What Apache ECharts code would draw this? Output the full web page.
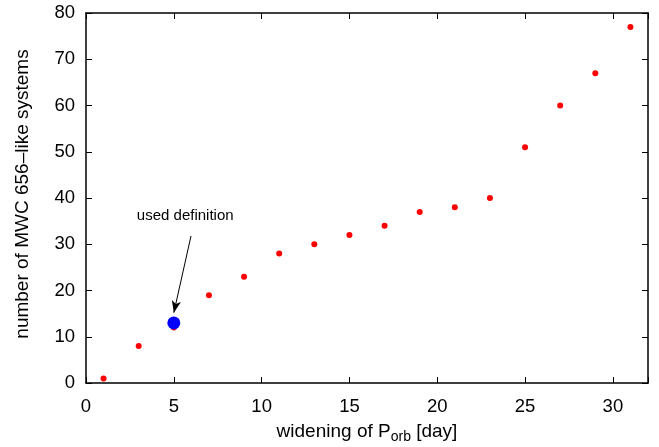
<!DOCTYPE html>
<html>
<head>
<meta charset="utf-8">
<script src="https://cdn.jsdelivr.net/npm/echarts@6/dist/echarts.min.js"></script>
<style>
html,body{margin:0;padding:0;background:#fff;}
#c{width:659px;height:447px;}
</style>
</head>
<body>
<div id="c"></div>
<script>
var widening = [1, 3, 5, 7, 9, 11, 13, 15, 17, 19, 21, 23, 25, 27, 29, 31];
var counts   = [1, 8, 12, 19, 23, 28, 30, 32, 34, 37, 38, 40, 51, 60, 67, 77];
var usedDef = [[5, 13]];
var annotationText = 'used definition';
var annotationPos = [5.65, 36.2];
var arrowFrom = [5.98, 31.8];
var arrowTo = [5, 15.2];

var font = 'Liberation Sans, Arial, Helvetica, sans-serif';
var chart = echarts.init(document.getElementById('c'));
var axisCommon = {
  axisLine: {show: true, onZero: false, lineStyle: {color: '#000', width: 1.5}},
  axisTick: {show: true, inside: true, length: 6, lineStyle: {color: '#000', width: 1}},
  splitLine: {show: false}
};
var xFmt = function (v) { return (v % 5 === 0) ? String(v) : ''; };
chart.setOption({
  animation: false,
  backgroundColor: '#fff',
  grid: {left: 86, right: 11, top: 13, bottom: 64, containLabel: false, outerBoundsMode: 'none'},
  xAxis: [
    Object.assign({}, axisCommon, {
      type: 'value', min: 0, max: 32, interval: 5, position: 'bottom',
      name: '{a|widening of P}{b|orb}{a| [day]}',
      nameLocation: 'middle', nameGap: 37,
      nameTextStyle: {rich: {
        a: {fontSize: 19, fontFamily: font, color: '#000'},
        b: {fontSize: 14, fontFamily: font, color: '#000', padding: [10, 0, 0, 0]}
      }},
      axisLabel: {formatter: xFmt, fontSize: 18.5, fontFamily: font, color: '#000', margin: 14}
    }),
    Object.assign({}, axisCommon, {
      type: 'value', min: 0, max: 32, interval: 5, position: 'top',
      axisLabel: {show: false}
    })
  ],
  yAxis: [
    Object.assign({}, axisCommon, {
      type: 'value', min: 0, max: 80, interval: 10, position: 'left',
      name: 'number of MWC 656\u2013like systems',
      nameLocation: 'middle', nameGap: 54, nameRotate: 90,
      nameTextStyle: {fontSize: 19, fontFamily: font, color: '#000', padding: [0, 0, 0, 8]},
      axisLabel: {fontSize: 18.5, fontFamily: font, color: '#000', margin: 11}
    }),
    Object.assign({}, axisCommon, {
      type: 'value', min: 0, max: 80, interval: 10, position: 'right',
      axisLabel: {show: false}
    })
  ],
  series: [
    {
      type: 'scatter', name: 'all', data: widening.map(function (x, i) { return [x, counts[i]]; }),
      symbol: 'circle', symbolSize: 6, itemStyle: {color: '#ff0000', opacity: 1},
      markLine: {
        silent: true, symbol: ['none', 'arrow'], symbolSize: [7, 12],
        label: {show: false},
        lineStyle: {color: '#000', width: 1, type: 'solid'},
        data: [[{coord: arrowFrom}, {coord: arrowTo}]]
      },
      markPoint: {
        silent: true, symbol: 'circle', symbolSize: 0,
        data: [{coord: annotationPos, value: annotationText}],
        label: {show: true, position: 'inside', formatter: annotationText, fontSize: 15, fontFamily: font, color: '#000'}
      }
    },
    {
      type: 'scatter', name: 'used', data: usedDef,
      symbol: 'circle', symbolSize: 13, itemStyle: {color: '#0000ff', opacity: 1}
    }
  ]
});
</script>
</body>
</html>
